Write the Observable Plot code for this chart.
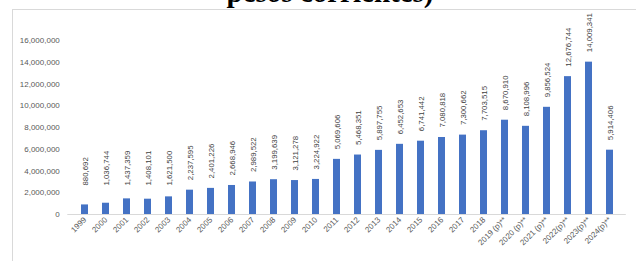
<!DOCTYPE html>
<html>
<head>
<meta charset="utf-8">
<script src="https://cdn.jsdelivr.net/npm/d3@7"></script>
<script src="https://cdn.jsdelivr.net/npm/@observablehq/plot@0.6"></script>
<style>
  html, body { margin: 0; padding: 0; background: #fff; }
  #wrap { position: relative; width: 636px; height: 261px; overflow: hidden; }
  #frame { position: absolute; left: 12px; top: 9px; width: 700px; height: 400px; border: 1px solid #d9d9d9; box-sizing: border-box; }
  #title { position: absolute; left: 0; width: 660px; top: -25px; text-align: center; font-family: "Liberation Serif", serif; font-weight: bold; font-size: 29px; line-height: 34px; color: #000; white-space: nowrap; }
  #chart { position: absolute; left: 0; top: 0; }
</style>
</head>
<body>
<div id="wrap">
  <div id="frame"></div>
  <div id="title">pesos corrientes)</div>
  <div id="chart"></div>
</div>
<script>
const years = ["1999","2000","2001","2002","2003","2004","2005","2006","2007","2008","2009","2010","2011","2012","2013","2014","2015","2016","2017","2018","2019 (p)**","2020 (p)**","2021 (p)**","2022(p)**","2023(p)**","2024(p)**"];
const values = [880692,1036744,1437359,1408101,1621500,2237595,2401226,2668946,2989522,3199639,3121278,3224922,5069606,5468351,5897755,6452653,6741442,7080818,7300662,7703515,8670910,8108996,9856524,12676744,14009341,5914406];
const yTicks = [0,2000000,4000000,6000000,8000000,10000000,12000000,14000000,16000000];

const data = years.map((y, i) => ({year: y, value: values[i]}));
const fmt = d3.format(",");

const chart = Plot.plot({
  width: 636,
  height: 261,
  marginTop: 40,
  marginBottom: 47,
  marginLeft: 67.3,
  marginRight: 10.2,
  style: {fontFamily: "'Liberation Sans', Arial, sans-serif", background: "transparent"},
  x: {type: "band", domain: years, paddingInner: 0.69, paddingOuter: 0.345, label: null},
  y: {domain: [0, 16000000], label: null},
  marks: [
    Plot.axisY({ticks: yTicks, tickFormat: fmt, tickSize: 0, tickPadding: 8, fontSize: 8, fill: "#595959", label: null}),
    Plot.axisX({tickSize: 0, tickPadding: 4, tickRotate: -45, fontSize: 8, fill: "#595959", label: null}),
    Plot.barY(data, {x: "year", y: "value", fill: "#4472C4"}),
    Plot.ruleY([0], {stroke: "#d9d9d9", strokeWidth: 1}),
    Plot.text(data, {
      x: "year",
      y: d => Math.max(d.value, 1750000),
      text: d => fmt(d.value),
      rotate: -90,
      textAnchor: "start",
      dy: -10,
      fontSize: 7.8,
      fill: "#404040"
    })
  ]
});
document.getElementById("chart").appendChild(chart);
</script>
</body>
</html>
